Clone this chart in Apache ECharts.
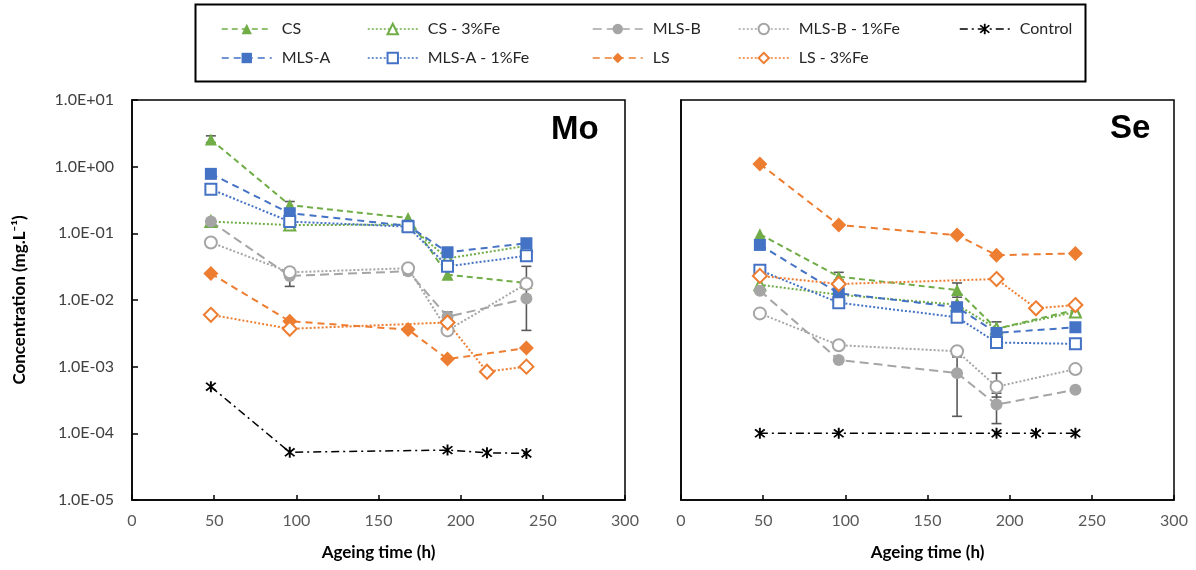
<!DOCTYPE html>
<html><head><meta charset="utf-8">
<script src="https://cdn.jsdelivr.net/npm/echarts@6/dist/echarts.min.js"></script>
<style>html,body{margin:0;padding:0;background:#fff}#c{width:1196px;height:570px}</style>
</head><body><div id="c"></div>
<script>
// ---- data ----
const hours = [48, 96, 168, 192, 240];
const hoursLS3 = [48, 96, 192, 216, 240];
const hoursCtrl = [48, 96, 192, 216, 240];
const xTicks = [0, 50, 100, 150, 200, 250, 300];
const yTickLabels = ['1.0E-05','1.0E-04','1.0E-03','1.0E-02','1.0E-01','1.0E+00','1.0E+01'];

// Mo
const moCS    = [2.55, 0.265, 0.17, 0.024, 0.018];
const moCS3   = [0.15, 0.133, 0.135, 0.042, 0.065];
const moMLSA  = [0.78, 0.20, 0.13, 0.052, 0.071];
const moMLSA1 = [0.46, 0.15, 0.126, 0.032, 0.046];
const moMLSB  = [0.15, 0.023, 0.027, 0.0056, 0.0105];
const moMLSB1 = [0.073, 0.026, 0.030, 0.0035, 0.0175];
const moLS    = [0.025, 0.0048, 0.0036, 0.0013, 0.0019];
const moLS3   = [0.006, 0.0037, 0.0046, 0.00084, 0.001];
const moCtrl  = [0.0005, 0.000052, 0.000056, 0.000051, 0.00005];
const moErrHours = [48, 96, 96, 168, 192, 240];
const moErrLow   = [2.3, 0.23, 0.016, 0.024, 0.0045, 0.0035];
const moErrHigh  = [2.9, 0.30, 0.030, 0.031, 0.0066, 0.032];

// Se
const seCS    = [0.097, 0.0224, 0.0141, 0.0037, 0.0071];
const seCS3   = [0.017, 0.012, 0.0085, 0.0037, 0.0066];
const seMLSA  = [0.067, 0.0126, 0.0078, 0.0032, 0.0039];
const seMLSA1 = [0.028, 0.0091, 0.0055, 0.0023, 0.0022];
const seMLSB  = [0.0138, 0.00126, 0.0008, 0.00027, 0.00045];
const seMLSB1 = [0.0063, 0.0021, 0.0017, 0.0005, 0.00092];
const seLS    = [1.1, 0.133, 0.094, 0.047, 0.05];
const seLS3   = [0.023, 0.0174, 0.0206, 0.0075, 0.0084];
const seCtrl  = [0.0001, 0.0001, 0.0001, 0.0001, 0.0001];
const seErrHours = [96, 168, 168, 192, 192, 192];
const seErrLow   = [0.020, 0.011, 0.00018, 0.0030, 0.00014, 0.00035];
const seErrHigh  = [0.026, 0.018, 0.0014, 0.0047, 0.0004, 0.0008];

// ---- styles ----
const GREEN = '#70AD47', BLUE = '#4472C4', GRAY = '#A5A5A5', ORANGE = '#ED7D31';
const starPath = 'path://M-1,-7L1,-7L1,7L-1,7Z' +
  'M-4.29,-5.71L5.71,4.29L4.29,5.71L-5.71,-4.29Z' +
  'M-5.71,4.29L4.29,-5.71L5.71,-4.29L-4.29,5.71Z';
const styles = {
  'CS':           {c: GREEN,  sym: 'triangle', size: 12, open: false, dash: [6, 4]},
  'CS - 3%Fe':    {c: GREEN,  sym: 'triangle', size: 11, open: true,  dash: [2, 2]},
  'MLS-B':        {c: GRAY,   sym: 'circle',   size: 12, open: false, dash: [9, 5]},
  'MLS-B - 1%Fe': {c: GRAY,   sym: 'circle',   size: 12, open: true,  dash: [2, 2]},
  'Control':      {c: '#000', sym: starPath,   size: 11, open: false, dash: [8, 4, 2, 4], lw: 1.5},
  'MLS-A':        {c: BLUE,   sym: 'rect',     size: 12, open: false, dash: [7, 5]},
  'MLS-A - 1%Fe': {c: BLUE,   sym: 'rect',     size: 11, open: true,  dash: [2, 2]},
  'LS':           {c: ORANGE, sym: 'diamond',  size: 15, open: false, dash: [7, 5]},
  'LS - 3%Fe':    {c: ORANGE, sym: 'diamond',  size: 14, open: true,  dash: [2, 2]}
};

function lineSeries(name, axisIdx, xs, ys) {
  const s = styles[name];
  return {
    name, type: 'line', xAxisIndex: axisIdx, yAxisIndex: axisIdx,
    data: xs.map((h, i) => [h, ys[i]]),
    symbol: s.sym, symbolSize: s.size, showAllSymbol: true,
    lineStyle: {color: s.c, width: s.lw || 2, type: s.dash},
    itemStyle: s.open ? {color: '#fff', borderColor: s.c, borderWidth: 2}
                      : {color: s.c, borderColor: s.c, borderWidth: 0},
    emphasis: {disabled: true}, animation: false, z: 3
  };
}
function errRender(params, api) {
  const x = api.value(0), lo = api.value(1), hi = api.value(2);
  const p1 = api.coord([x, lo]), p2 = api.coord([x, hi]);
  const w = 5, st = {stroke: '#595959', lineWidth: 1.6};
  return {type: 'group', children: [
    {type: 'line', shape: {x1: p1[0], y1: p1[1], x2: p2[0], y2: p2[1]}, style: st},
    {type: 'line', shape: {x1: p1[0] - w, y1: p1[1], x2: p1[0] + w, y2: p1[1]}, style: st},
    {type: 'line', shape: {x1: p2[0] - w, y1: p2[1], x2: p2[0] + w, y2: p2[1]}, style: st}
  ]};
}
function errSeries(axisIdx, hs, lo, hi) {
  return {type: 'custom', xAxisIndex: axisIdx, yAxisIndex: axisIdx, renderItem: errRender,
    data: hs.map((h, i) => [h, lo[i], hi[i]]), encode: {x: 0, y: [1, 2]}, z: 2, silent: true, animation: false};
}

const FONT = 'Lato, "Open Sans", sans-serif';
const fmtE = v => {
  const e = Math.round(Math.log10(v));
  const idx = e + 5;
  return yTickLabels[idx] !== undefined ? yTickLabels[idx] : '';
};

const grids = [
  {left: 132, width: 493, top: 100, height: 400},
  {left: 681, width: 493, top: 100, height: 400}
];
const xAxes = [0, 1].map(i => ({
  type: 'value', gridIndex: i, min: xTicks[0], max: xTicks[xTicks.length - 1], interval: 50,
  name: 'Ageing time (h)', nameLocation: 'middle', nameGap: 44,
  nameTextStyle: {fontFamily: FONT, fontWeight: 'bold', fontSize: 17, color: '#000'},
  axisLine: {show: true, lineStyle: {color: '#000', width: 1.5}},
  axisTick: {show: true, inside: true, length: 5, lineStyle: {color: '#000', width: 1.5}},
  axisLabel: {fontFamily: FONT, fontSize: 16, color: '#595959', margin: 13},
  splitLine: {show: false}
}));
const yAxes = [0, 1].map(i => ({
  type: 'log', logBase: 10, gridIndex: i, min: 1e-5, max: 10, splitNumber: 6,
  axisLine: {show: true, lineStyle: {color: '#000', width: 1.5}},
  axisTick: {show: i === 0, inside: true, length: 6, lineStyle: {color: '#000', width: 1.5}},
  axisLabel: {show: i === 0, formatter: fmtE, fontFamily: FONT, fontSize: 16, color: '#404040', margin: 18},
  splitLine: {show: false}
}));

const series = [
  errSeries(0, moErrHours, moErrLow, moErrHigh),
  errSeries(1, seErrHours, seErrLow, seErrHigh),
  lineSeries('CS', 0, hours, moCS),
  lineSeries('CS - 3%Fe', 0, hours, moCS3),
  lineSeries('MLS-B', 0, hours, moMLSB),
  lineSeries('MLS-B - 1%Fe', 0, hours, moMLSB1),
  lineSeries('Control', 0, hoursCtrl, moCtrl),
  lineSeries('MLS-A', 0, hours, moMLSA),
  lineSeries('MLS-A - 1%Fe', 0, hours, moMLSA1),
  lineSeries('LS', 0, hours, moLS),
  lineSeries('LS - 3%Fe', 0, hoursLS3, moLS3),
  lineSeries('CS', 1, hours, seCS),
  lineSeries('CS - 3%Fe', 1, hours, seCS3),
  lineSeries('MLS-B', 1, hours, seMLSB),
  lineSeries('MLS-B - 1%Fe', 1, hours, seMLSB1),
  lineSeries('Control', 1, hoursCtrl, seCtrl),
  lineSeries('MLS-A', 1, hours, seMLSA),
  lineSeries('MLS-A - 1%Fe', 1, hours, seMLSA1),
  lineSeries('LS', 1, hours, seLS),
  lineSeries('LS - 3%Fe', 1, hoursLS3, seLS3)
];

const legendPos = [
  ['CS', 221, 21], ['CS - 3%Fe', 367, 21], ['MLS-B', 592, 21], ['MLS-B - 1%Fe', 738, 21], ['Control', 959, 21],
  ['MLS-A', 221, 50], ['MLS-A - 1%Fe', 367, 50], ['LS', 592, 50], ['LS - 3%Fe', 738, 50]
];
const legends = legendPos.map(([n, l, t]) => ({
  data: [n], left: l, top: t, padding: 0, itemWidth: 50, itemHeight: 13, itemGap: 0,
  textStyle: {fontFamily: FONT, fontSize: 16, color: '#262626', padding: [0, 0, 0, 5]},
  lineStyle: {width: 1.5},
  selectedMode: false
}));

const chart = echarts.init(document.getElementById('c'), null, {renderer: 'canvas'});
chart.setOption({
  backgroundColor: '#fff',
  animation: false,
  grid: grids.map(g => Object.assign({show: true, borderColor: '#000', borderWidth: 1.5, backgroundColor: 'transparent'}, g)),
  xAxis: xAxes, yAxis: yAxes, legend: legends, series,
  graphic: [
    {type: 'rect', left: 193, top: 2, shape: {width: 890, height: 77},
     style: {fill: 'none', stroke: '#000', lineWidth: 2}, z: -1},
    {type: 'text', left: 551, top: 113,
     style: {text: 'Mo', font: 'bold 33px "Liberation Sans", Arial, sans-serif', fill: '#000'}},
    {type: 'text', left: 1110, top: 112,
     style: {text: 'Se', font: 'bold 33px "Liberation Sans", Arial, sans-serif', fill: '#000'}},
    {type: 'text', x: 20, y: 300, rotation: Math.PI / 2, originX: 0, originY: 0,
     style: {text: 'Concentration (mg.L⁻¹)', font: 'bold 17px ' + FONT, fill: '#000',
             align: 'center', verticalAlign: 'middle'}}
  ]
});
</script></body></html>
